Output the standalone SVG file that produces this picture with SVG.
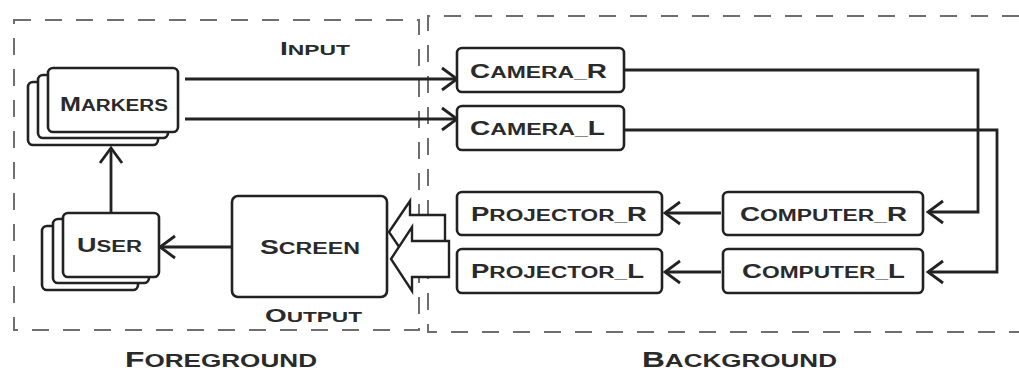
<svg xmlns="http://www.w3.org/2000/svg" width="1019" height="372" viewBox="0 0 1019 372">
<style>
.box{fill:#fff;stroke:#222;stroke-width:2.6}
.ln{fill:none;stroke:#222;stroke-width:2.8}
.harrow{fill:#fff;stroke:#222;stroke-width:2.4;stroke-linejoin:miter}
.dash{fill:none;stroke:#6e6e6e;stroke-width:2;stroke-dasharray:17 14}
text{font-family:"Liberation Sans",Arial,sans-serif;font-weight:bold;fill:#2a2a2a}
.s{font-size:16px}
.s .b{font-size:19.5px}
.m{font-size:15px}
.m .b{font-size:18.5px}
.l{font-size:18.5px}
.l .b{font-size:22.5px}
</style>
<defs>
<marker id="chev" viewBox="-2 -13 19 26" refX="15" refY="0" markerWidth="19" markerHeight="26" markerUnits="userSpaceOnUse" orient="auto">
<path d="M0,-11 L15,0 L0,11" fill="none" stroke="#222" stroke-width="2.8"/>
</marker>
</defs>
<g id="regions">
<rect class="dash" x="14" y="20" width="405" height="310"/>
<path class="dash" d="M1019,16 H428 V332 H1019"/>
</g>
<g id="labels">
<text class="m" x="280" y="55" textLength="70" lengthAdjust="spacingAndGlyphs"><tspan class="b">I</tspan>NPUT</text>
<text class="m" x="265" y="322" textLength="97" lengthAdjust="spacingAndGlyphs"><tspan class="b">O</tspan>UTPUT</text>
<text class="l" x="125" y="367" textLength="192" lengthAdjust="spacingAndGlyphs"><tspan class="b">F</tspan>OREGROUND</text>
<text class="l" x="642" y="367" textLength="195" lengthAdjust="spacingAndGlyphs"><tspan class="b">B</tspan>ACKGROUND</text>
</g>
<g id="connectors">
<path class="ln" d="M185,79 H457" marker-end="url(#chev)"/>
<path class="ln" d="M185,119 H457" marker-end="url(#chev)"/>
<path class="ln" d="M624,70 H978 V212 H928" marker-end="url(#chev)"/>
<path class="ln" d="M624,130 H997 V272 H928" marker-end="url(#chev)"/>
<path class="ln" d="M721,213 H665" marker-end="url(#chev)"/>
<path class="ln" d="M721,272 H665" marker-end="url(#chev)"/>
<path class="ln" d="M232,247 H160" marker-end="url(#chev)"/>
<path class="ln" d="M111,212 V148" marker-end="url(#chev)"/>
<polygon class="harrow" points="389,232 410,201 410,215 445,215 445,249 410,249 410,263"/>
<polygon class="harrow" points="391,259 412,227 412,241 449,241 449,277 412,277 412,291"/>
</g>
<g id="markers">
<rect class="box" x="28" y="82" width="130" height="63" rx="5"/>
<rect class="box" x="38" y="75" width="130" height="63" rx="5"/>
<rect class="box" x="48" y="68" width="130" height="64" rx="5"/>
<text class="s" x="60" y="111" textLength="108" lengthAdjust="spacingAndGlyphs"><tspan class="b">M</tspan>ARKERS</text>
</g>
<g id="user">
<rect class="box" x="42" y="226" width="96" height="64" rx="5"/>
<rect class="box" x="53" y="219" width="96" height="64" rx="5"/>
<rect class="box" x="63" y="213" width="96" height="64" rx="5"/>
<text class="s" x="77" y="252" textLength="65" lengthAdjust="spacingAndGlyphs"><tspan class="b">U</tspan>SER</text>
</g>
<g id="screen">
<rect class="box" x="232" y="196" width="155" height="101" rx="6"/>
<text class="s" x="260" y="254" textLength="100" lengthAdjust="spacingAndGlyphs"><tspan class="b">S</tspan>CREEN</text>
</g>
<g id="camera_r">
<rect class="box" x="457" y="48" width="167" height="44" rx="5"/>
<text class="s" x="470" y="78" textLength="137" lengthAdjust="spacingAndGlyphs"><tspan class="b">C</tspan>AMERA_<tspan class="b">R</tspan></text>
</g>
<g id="camera_l">
<rect class="box" x="457" y="106" width="167" height="44" rx="5"/>
<text class="s" x="470" y="135" textLength="135" lengthAdjust="spacingAndGlyphs"><tspan class="b">C</tspan>AMERA_<tspan class="b">L</tspan></text>
</g>
<g id="projector_r">
<rect class="box" x="457" y="192" width="205" height="43" rx="5"/>
<text class="s" x="471" y="221" textLength="176" lengthAdjust="spacingAndGlyphs"><tspan class="b">P</tspan>ROJECTOR_<tspan class="b">R</tspan></text>
</g>
<g id="projector_l">
<rect class="box" x="457" y="249" width="205" height="44" rx="5"/>
<text class="s" x="471" y="278" textLength="173" lengthAdjust="spacingAndGlyphs"><tspan class="b">P</tspan>ROJECTOR_<tspan class="b">L</tspan></text>
</g>
<g id="computer_r">
<rect class="box" x="723" y="192" width="200" height="43" rx="5"/>
<text class="s" x="740" y="221" textLength="167" lengthAdjust="spacingAndGlyphs"><tspan class="b">C</tspan>OMPUTER_<tspan class="b">R</tspan></text>
</g>
<g id="computer_l">
<rect class="box" x="723" y="249" width="200" height="44" rx="5"/>
<text class="s" x="742" y="278" textLength="163" lengthAdjust="spacingAndGlyphs"><tspan class="b">C</tspan>OMPUTER_<tspan class="b">L</tspan></text>
</g>
</svg>
